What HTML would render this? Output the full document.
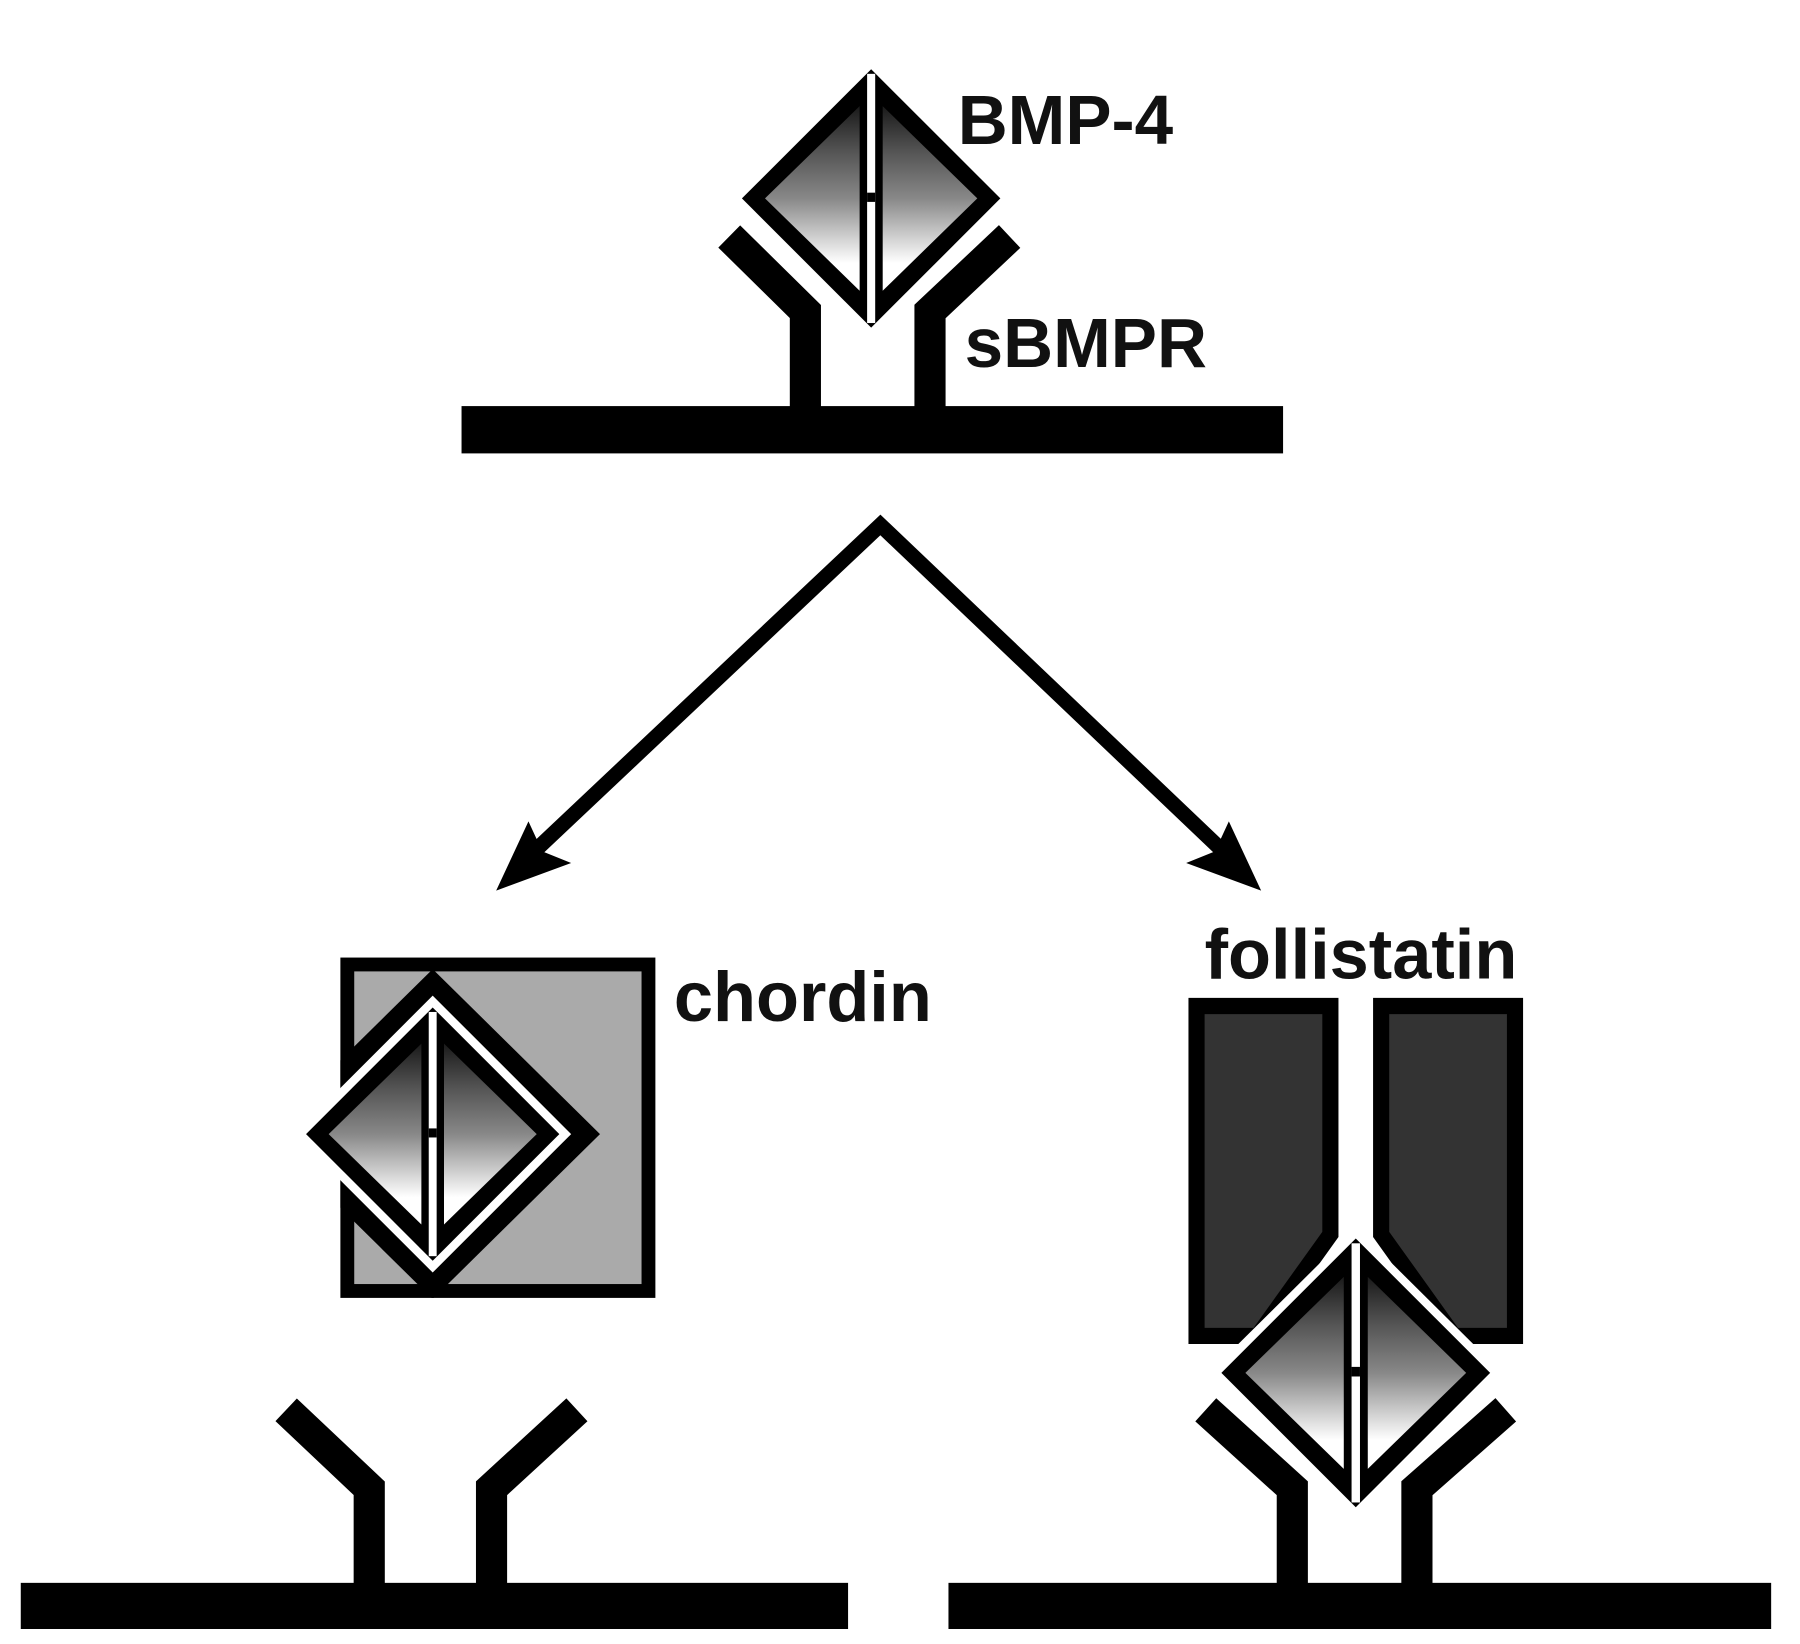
<!DOCTYPE html>
<html><head><meta charset="utf-8"><style>
html,body{margin:0;padding:0;background:#fff;}
svg{display:block;}
text{font-family:"Liberation Sans",Arial,sans-serif;font-weight:bold;fill:#111;}
</style></head><body>
<svg width="1800" height="1644" viewBox="0 0 1560 1425" preserveAspectRatio="none" xmlns="http://www.w3.org/2000/svg">
<defs>
<linearGradient id="g" x1="0" y1="0" x2="0" y2="1">
<stop offset="0" stop-color="#1a1a1a"/>
<stop offset="0.25" stop-color="#555"/>
<stop offset="0.5" stop-color="#888"/>
<stop offset="0.85" stop-color="#fff"/>
</linearGradient>
<g id="dia">
<polygon points="0,-112 112,0 0,112 -112,0" fill="#000"/>
<polygon points="-10,-80 -92,0 -10,80" fill="url(#g)"/>
<polygon points="10,-80 92,0 10,80" fill="url(#g)"/>
<rect x="-3.5" y="-108" width="7" height="216" fill="#fff"/>
<rect x="-3.5" y="-5" width="7" height="8" fill="#000"/>
</g>
<clipPath id="sq"><rect x="295" y="830" width="273" height="295"/></clipPath>
</defs>

<!-- top -->
<rect x="400" y="352" width="712" height="41" fill="#000"/>
<polyline points="632,205 698,270 698,355" fill="none" stroke="#000" stroke-width="27"/>
<polyline points="875,205 806,270 806,355" fill="none" stroke="#000" stroke-width="27"/>
<polygon points="755,52 880,172 755,292 630,172" fill="#fff"/>
<use href="#dia" transform="translate(755,172)"/>
<text x="830" y="125" font-size="60">BMP-4</text>
<text x="836" y="318" font-size="60">sBMPR</text>

<!-- arrows -->
<polyline points="445,755 763,455 1078,755" fill="none" stroke="#000" stroke-width="13" stroke-linejoin="miter"/>
<polygon points="430,772 458,712 470,738 495,748" fill="#000"/>
<polygon points="1093,772 1065,712 1053,738 1028,748" fill="#000"/>

<!-- chordin -->
<rect x="301" y="836" width="261" height="283" fill="#aaa" stroke="#000" stroke-width="12"/>
<g clip-path="url(#sq)">
<polygon points="375,840 520,983 375,1126 230,983" fill="#000"/>
</g>
<polygon points="375,863 495,983 375,1103 255,983" fill="#fff"/>
<use href="#dia" transform="translate(375,983) scale(0.98)"/>
<text x="584" y="885" font-size="61">chordin</text>

<!-- follistatin -->
<polygon points="1037,872 1153,872 1153,1070 1090,1158 1037,1158" fill="#333" stroke="#000" stroke-width="14"/>
<polygon points="1197,872 1313,872 1313,1158 1260,1158 1197,1070" fill="#333" stroke="#000" stroke-width="14"/>
<text x="1044" y="848" font-size="61">follistatin</text>

<!-- bottom left -->
<rect x="18" y="1372" width="717" height="40" fill="#000"/>
<polyline points="248,1222 320,1290 320,1375" fill="none" stroke="#000" stroke-width="27"/>
<polyline points="500,1222 426,1290 426,1375" fill="none" stroke="#000" stroke-width="27"/>

<!-- bottom right -->
<rect x="822" y="1372" width="713" height="40" fill="#000"/>
<polyline points="1045,1222 1120,1290 1120,1375" fill="none" stroke="#000" stroke-width="27"/>
<polyline points="1305,1222 1228,1290 1228,1375" fill="none" stroke="#000" stroke-width="27"/>
<polygon points="1175,1064 1302,1190 1175,1316 1048,1190" fill="#fff"/>
<use href="#dia" transform="translate(1175,1190) scale(1.04)"/>
</svg>
</body></html>
